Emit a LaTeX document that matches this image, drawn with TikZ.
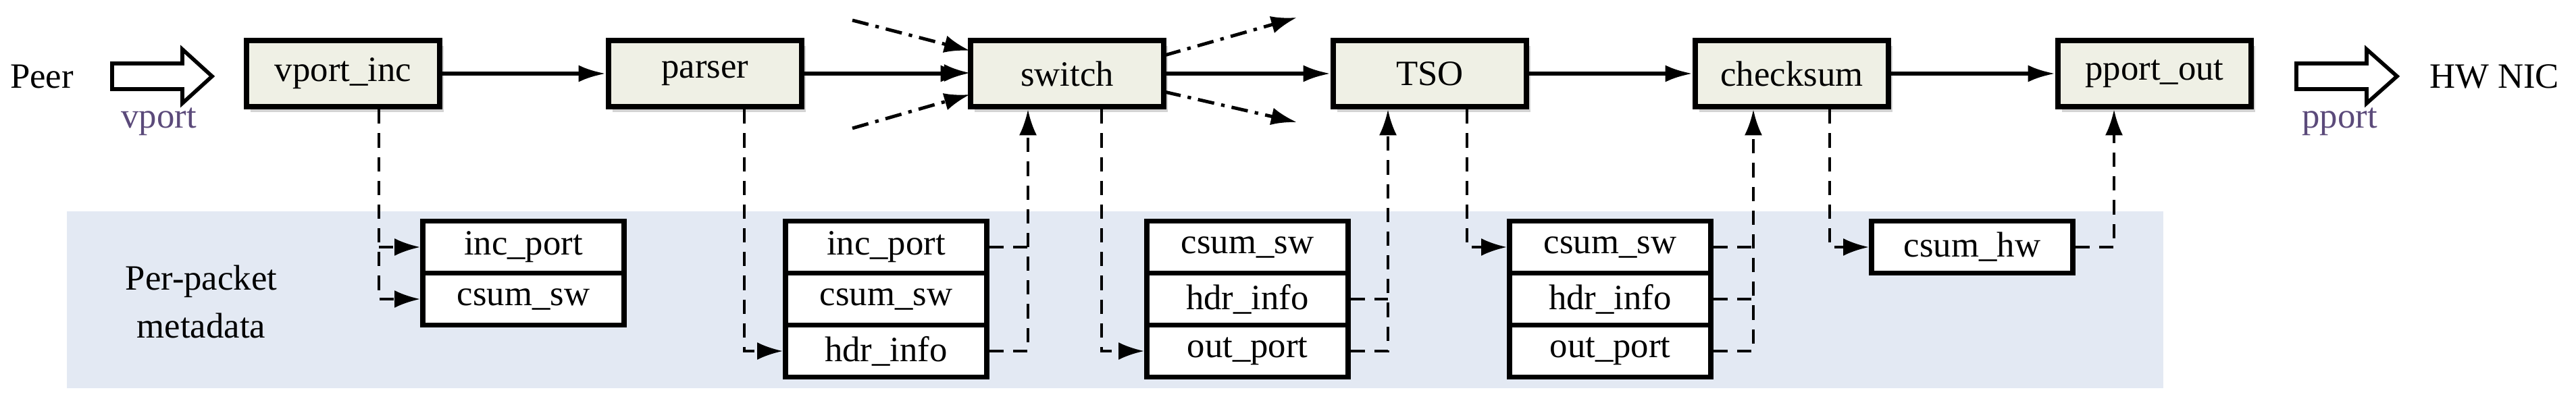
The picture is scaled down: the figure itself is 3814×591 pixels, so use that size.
\documentclass[tikz,border=0pt]{standalone}
\usepackage{fontspec}
\setmainfont{Liberation Serif}
\usetikzlibrary{shadows,arrows.meta}
\definecolor{boxfill}{HTML}{EFF0E5}
\definecolor{band}{HTML}{E3E9F3}
\definecolor{lab}{HTML}{5B4A7A}
\begin{document}
\begin{tikzpicture}[x=0.01cm,y=-0.01cm,
  every node/.style={font=\rmfamily\fontsize{15}{18}\selectfont},
  blk/.style={draw,line width=2.4pt,fill=boxfill,minimum width=2.86cm,minimum height=0.98cm,inner sep=0pt,drop shadow={shadow xshift=0.06cm,shadow yshift=-0.08cm,opacity=0.35}},
  md/.style={draw,line width=2.2pt,fill=white,minimum width=2.98cm,minimum height=0.77cm,inner sep=0pt},
  flow/.style={line width=1.6pt,-{Latex[length=0.4cm,width=0.25cm]}},
  dsh/.style={line width=1.2pt,dash pattern=on 6pt off 4pt},
  meta/.style={dsh,-{Latex[length=0.38cm,width=0.26cm]}},
  dd/.style={line width=1.4pt,dash pattern=on 7pt off 3pt on 1.5pt off 3pt,-{Latex[length=0.38cm,width=0.26cm]}}]
\useasboundingbox (0,0) rectangle (3814,591);
\fill[band] (99,313) rectangle (3203,575);
% main blocks
\node[blk] (vi) at (508,109) {vport\_inc};
\node[blk] (pa) at (1044,109) {parser};
\node[blk] (sw) at (1580,109) {switch};
\node[blk] (tso) at (2117,109) {TSO};
\node[blk] (cs) at (2653,109) {checksum};
\node[blk] (po) at (3190,109) {pport\_out};
\draw[flow] (vi) -- (pa);
\draw[flow] (pa) -- (sw);
\draw[flow] (sw) -- (tso);
\draw[flow] (tso) -- (cs);
\draw[flow] (cs) -- (po);
% in/out
\node (peer) at (62,113) {Peer};
\draw[line width=1.6pt,fill=white] (166,94) -- (270,94) -- (270,73) -- (314,113) -- (270,153) -- (270,132) -- (166,132) -- cycle;
\node[text=lab] (vp) at (235,180) {vport};
\draw[line width=1.6pt,fill=white] (3400,94) -- (3504,94) -- (3504,73) -- (3549,113) -- (3504,153) -- (3504,132) -- (3400,132) -- cycle;
\node (hw) at (3693,113) {HW NIC};
\node[text=lab] (pp) at (3464,180) {pport};
% dash-dot around switch
\coordinate (a1) at (1262,30); \coordinate (a2) at (1262,108); \coordinate (a3) at (1262,190);
\coordinate (b1) at (1920,26); \coordinate (b2) at (1920,181);
\draw[dd] (a1) -- (1436,75);
\draw[dd] (a2) -- (1436,108);
\draw[dd] (a3) -- (1436,140);
\draw[dd] (1724,82) -- (b1);
\draw[dd] (1724,136) -- (b2);
% metadata
\node[align=center] (pm) at (298,447) {Per-packet\\[2pt]metadata};
\node[md] (g1a) at (775,366) {inc\_port};
\node[md] (g1b) at (775,443) {csum\_sw};
\node[md] (g2a) at (1312,366) {inc\_port};
\node[md] (g2b) at (1312,443) {csum\_sw};
\node[md] (g2c) at (1312,520) {hdr\_info};
\node[md] (g3a) at (1847,366) {csum\_sw};
\node[md] (g3b) at (1847,443) {hdr\_info};
\node[md] (g3c) at (1847,520) {out\_port};
\node[md] (g4a) at (2384,366) {csum\_sw};
\node[md] (g4b) at (2384,443) {hdr\_info};
\node[md] (g4c) at (2384,520) {out\_port};
\node[md] (g5a) at (2920,366) {csum\_hw};
% metadata connectors
\draw[meta] (vi.south -| 561,0) |- (g1b.west);
\draw[meta] (561,366) -- (g1a.west);
\draw[meta] (pa.south -| 1102,0) |- (g2c.west);
\draw[meta] (g2c.east) -| (sw.south -| 1522,0);
\draw[dsh] (g2a.east) -- (1522,366);
\draw[meta] (sw.south -| 1631,0) |- (g3c.west);
\draw[meta] (g3c.east) -| (tso.south -| 2055,0);
\draw[dsh] (g3b.east) -- (2055,443);
\draw[meta] (tso.south -| 2172,0) |- (g4a.west);
\draw[meta] (g4c.east) -| (cs.south -| 2596,0);
\draw[dsh] (g4a.east) -- (2596,366);
\draw[dsh] (g4b.east) -- (2596,443);
\draw[meta] (cs.south -| 2709,0) |- (g5a.west);
\draw[meta] (g5a.east) -| (po.south -| 3130,0);
\end{tikzpicture}
\end{document}
